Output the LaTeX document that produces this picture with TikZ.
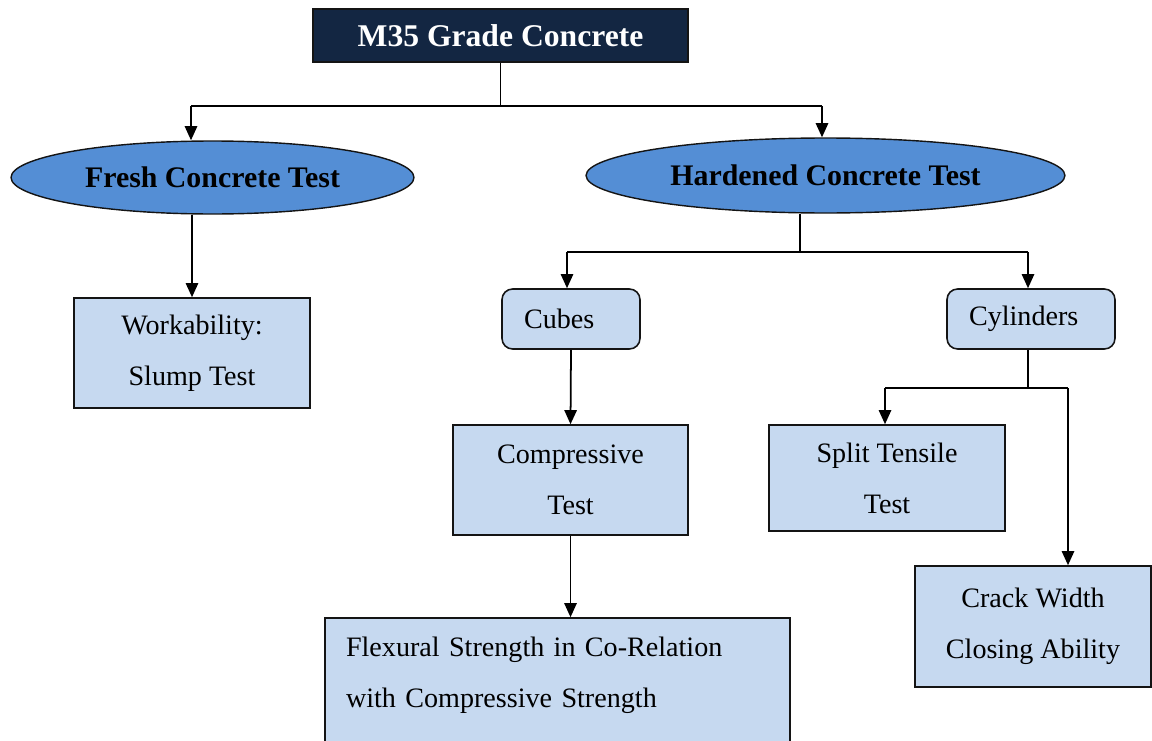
\documentclass[tikz,border=0pt]{standalone}
\usepackage{fontspec}
\setmainfont{Liberation Serif}
\usepackage{tikz}
\usetikzlibrary{shapes.geometric, arrows.meta, positioning, calc}
\definecolor{mynavy}{RGB}{19,38,66}
\definecolor{myblue}{RGB}{84,142,213}
\definecolor{mylight}{RGB}{198,217,240}
\definecolor{mydark}{RGB}{20,20,20}
\tikzset{
  titlebox/.style={rectangle, draw=mydark, fill=mynavy, text=white,
    minimum width=7.5cm, minimum height=1.06cm,
    font=\fontsize{18}{22}\selectfont\bfseries, line width=0.8pt},
  testoval/.style={ellipse, draw=mydark, fill=myblue, inner sep=0pt,
    font=\fontsize{17}{21}\selectfont\bfseries, line width=0.8pt},
  testbox/.style={rectangle, draw=mydark, fill=mylight,
    minimum width=4.72cm, align=center,
    font=\fontsize{16}{29}\selectfont, line width=0.9pt},
  samplebox/.style={rectangle, draw=mydark, fill=mylight,
    minimum height=1.2cm, inner xsep=0.44cm, align=left,
    font=\fontsize{16}{20}\selectfont, rounded corners=6pt, line width=0.9pt},
  arrow/.style={-{Triangle[width=7pt,length=8pt]}, line width=1pt, color=black},
  line/.style={line width=1pt, color=black}
}
\begin{document}
\begin{tikzpicture}[x=0.02cm, y=-0.02cm]
  \useasboundingbox (0,0) rectangle (1152,740);

  \node[titlebox] (title) at (500.5,35.5) {M35 Grade Concrete};
  \node[testoval, minimum width=8.06cm, minimum height=1.46cm] (fresh) at (212.5,177.5) {Fresh Concrete Test};
  \node[testoval, minimum width=9.58cm, minimum height=1.5cm] (hard) at (825.5,175.5) {Hardened Concrete Test};

  \node[testbox, minimum height=2.2cm] (work) at (192,353) {Workability:\\Slump Test};
  \node[samplebox, text width=1.88cm] (cubes) at (571,319) {Cubes};
  \node[samplebox, text width=2.48cm] (cyl) at (1031,319) {Cylinders};
  \node[testbox, minimum width=4.7cm, minimum height=2.2cm] (comp) at (570.5,480) {Compressive\\Test};
  \node[testbox, minimum height=2.12cm] (split) at (887,478) {Split Tensile\\Test};
  \node[testbox, minimum height=2.42cm] (crack) at (1033,626.5) {Crack Width\\Closing Ability};
  \node[testbox, minimum width=9.3cm, minimum height=2.84cm, text width=8.46cm, align=left] (flex) at (557.5,689)
    {Flexural Strength in Co-Relation\\with Compressive Strength\\[-10pt]\mbox{}};

  % junction points of the branch lines
  \coordinate (topL) at (191,106);
  \coordinate (topR) at (822,106);
  \coordinate (hardJ) at (800,252);
  \coordinate (hardL) at (567,252);
  \coordinate (hardR) at (1028,252);
  \coordinate (cylJ) at (1028,388);
  \coordinate (cylL) at (885,388);
  \coordinate (cylR) at (1068,388);

  \draw[line] (title.south) -- (title.south |- topL);
  \draw[line] (topL) -- (topR);
  \draw[arrow] (topL) -- (topL |- fresh.north);
  \draw[arrow] (topR) -- (topR |- hard.north);

  \draw[arrow] (work.north |- fresh.south) -- (work.north);

  \draw[line] (hardJ |- hard.south) -- (hardJ);
  \draw[line] (hardL) -- (hardR);
  \draw[arrow] (hardL) -- (hardL |- cubes.north);
  \draw[arrow] (hardR) -- (hardR |- cyl.north);

  \draw[arrow] (cubes.south) -- (comp.north);
  \draw[arrow] (comp.south) -- (comp.south |- flex.north);

  \draw[line] (cylJ |- cyl.south) -- (cylJ);
  \draw[line] (cylL) -- (cylR);
  \draw[arrow] (cylL) -- (cylL |- split.north);
  \draw[arrow] (cylR) -- (cylR |- crack.north);
\end{tikzpicture}
\end{document}
